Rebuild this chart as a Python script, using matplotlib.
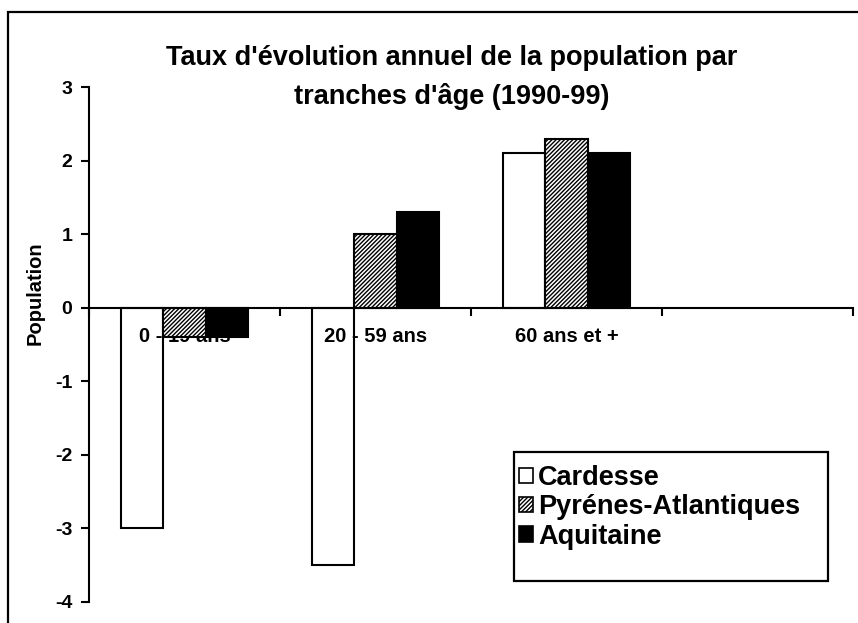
import matplotlib
matplotlib.use('Agg')
import matplotlib.pyplot as plt
from matplotlib.patches import Rectangle, Patch
import numpy as np

plt.rcParams['font.family'] = ['Liberation Sans', 'DejaVu Sans']
plt.rcParams['font.weight'] = 'bold'
plt.rcParams['hatch.linewidth'] = 1.0

# données
categories = ['0 - 19 ans', '20 - 59 ans', '60 ans et +', '']
series_names = ['Cardesse', 'Pyrénes-Atlantiques', 'Aquitaine']
cardesse = [-3.0, -3.5, 2.1, np.nan]
pyrenees = [-0.4, 1.0, 2.3, np.nan]
aquitaine = [-0.4, 1.3, 2.1, np.nan]
y_ticks = [3, 2, 1, 0, -1, -2, -3, -4]

W, H = 858, 623
fig = plt.figure(figsize=(W / 100, H / 100), dpi=100)

# cadre extérieur
fig.patches.append(Rectangle((8 / W, -0.1), 1.0, (H - 12) / H + 0.1, transform=fig.transFigure,
                             fill=False, edgecolor='black', linewidth=1.6))

ax = fig.add_axes([89 / W, (H - 602) / H, (853 - 89) / W, (602 - 87) / H])

x = np.arange(len(categories))
width = 1 / 4.5
styles = [
    dict(facecolor='none', edgecolor='black', hatch=None),
    dict(facecolor='white', edgecolor='black', hatch='////////'),
    dict(facecolor='black', edgecolor='black', hatch=None),
]
for i, (vals, st) in enumerate(zip([cardesse, pyrenees, aquitaine], styles)):
    ax.bar(x + (i - 1) * width, vals, width, linewidth=1.5, zorder=2, **st)

ax.set_xlim(-0.5, len(categories) - 0.5)
ax.set_ylim(-4, 3)
ax.set_yticks(y_ticks)
ax.set_yticklabels([str(t) for t in y_ticks], fontsize=14, fontweight='bold')
ax.tick_params(axis='y', direction='out', length=6, width=1.5, pad=6)

# axe des x au niveau zéro
ax.spines['bottom'].set_position(('data', 0))
ax.spines['bottom'].set_linewidth(1.5)
ax.spines['left'].set_linewidth(1.5)
ax.spines['top'].set_visible(False)
ax.spines['right'].set_visible(False)

ax.set_xticks(x)
ax.set_xticklabels(categories, fontsize=14.5, fontweight='bold')
ax.set_xticks(np.arange(-0.5, len(categories)), minor=True)
ax.tick_params(axis='x', which='major', length=0, pad=14)
ax.tick_params(axis='x', which='minor', direction='out', length=6, width=1.5)

ax.set_ylabel('Population', fontsize=14.5, fontweight='bold')
ax.yaxis.set_label_coords((45 - 89) / (853 - 89), (602 - 293) / (602 - 87))

fig.text(452 / W, 1 - 58 / H, "Taux d'évolution annuel de la population par",
         ha='center', va='center', fontsize=19.5, fontweight='bold')
fig.text(452 / W, 1 - 97 / H, "tranches d'âge (1990-99)",
         ha='center', va='center', fontsize=19.5, fontweight='bold')

# légende : cadre dessiné à part
fig.patches.append(Rectangle((514 / W, 1 - 581 / H), (828 - 514) / W, (581 - 452) / H,
                             transform=fig.transFigure, fill=False, edgecolor='black',
                             linewidth=1.6, zorder=5))
handles = [Patch(label=n, linewidth=1.2, **st) for n, st in zip(series_names, styles)]
handles[0].set_facecolor('white')
leg = fig.legend(handles=handles, loc='upper left', bbox_to_anchor=(519 / W, 1 - 465 / H),
                 frameon=False, fontsize=19.5, handlelength=0.5, handleheight=0.5,
                 handletextpad=0.2, borderpad=0, labelspacing=0.12, borderaxespad=0)
for t in leg.get_texts():
    t.set_fontweight('bold')

fig.savefig('out.png', dpi=100)
